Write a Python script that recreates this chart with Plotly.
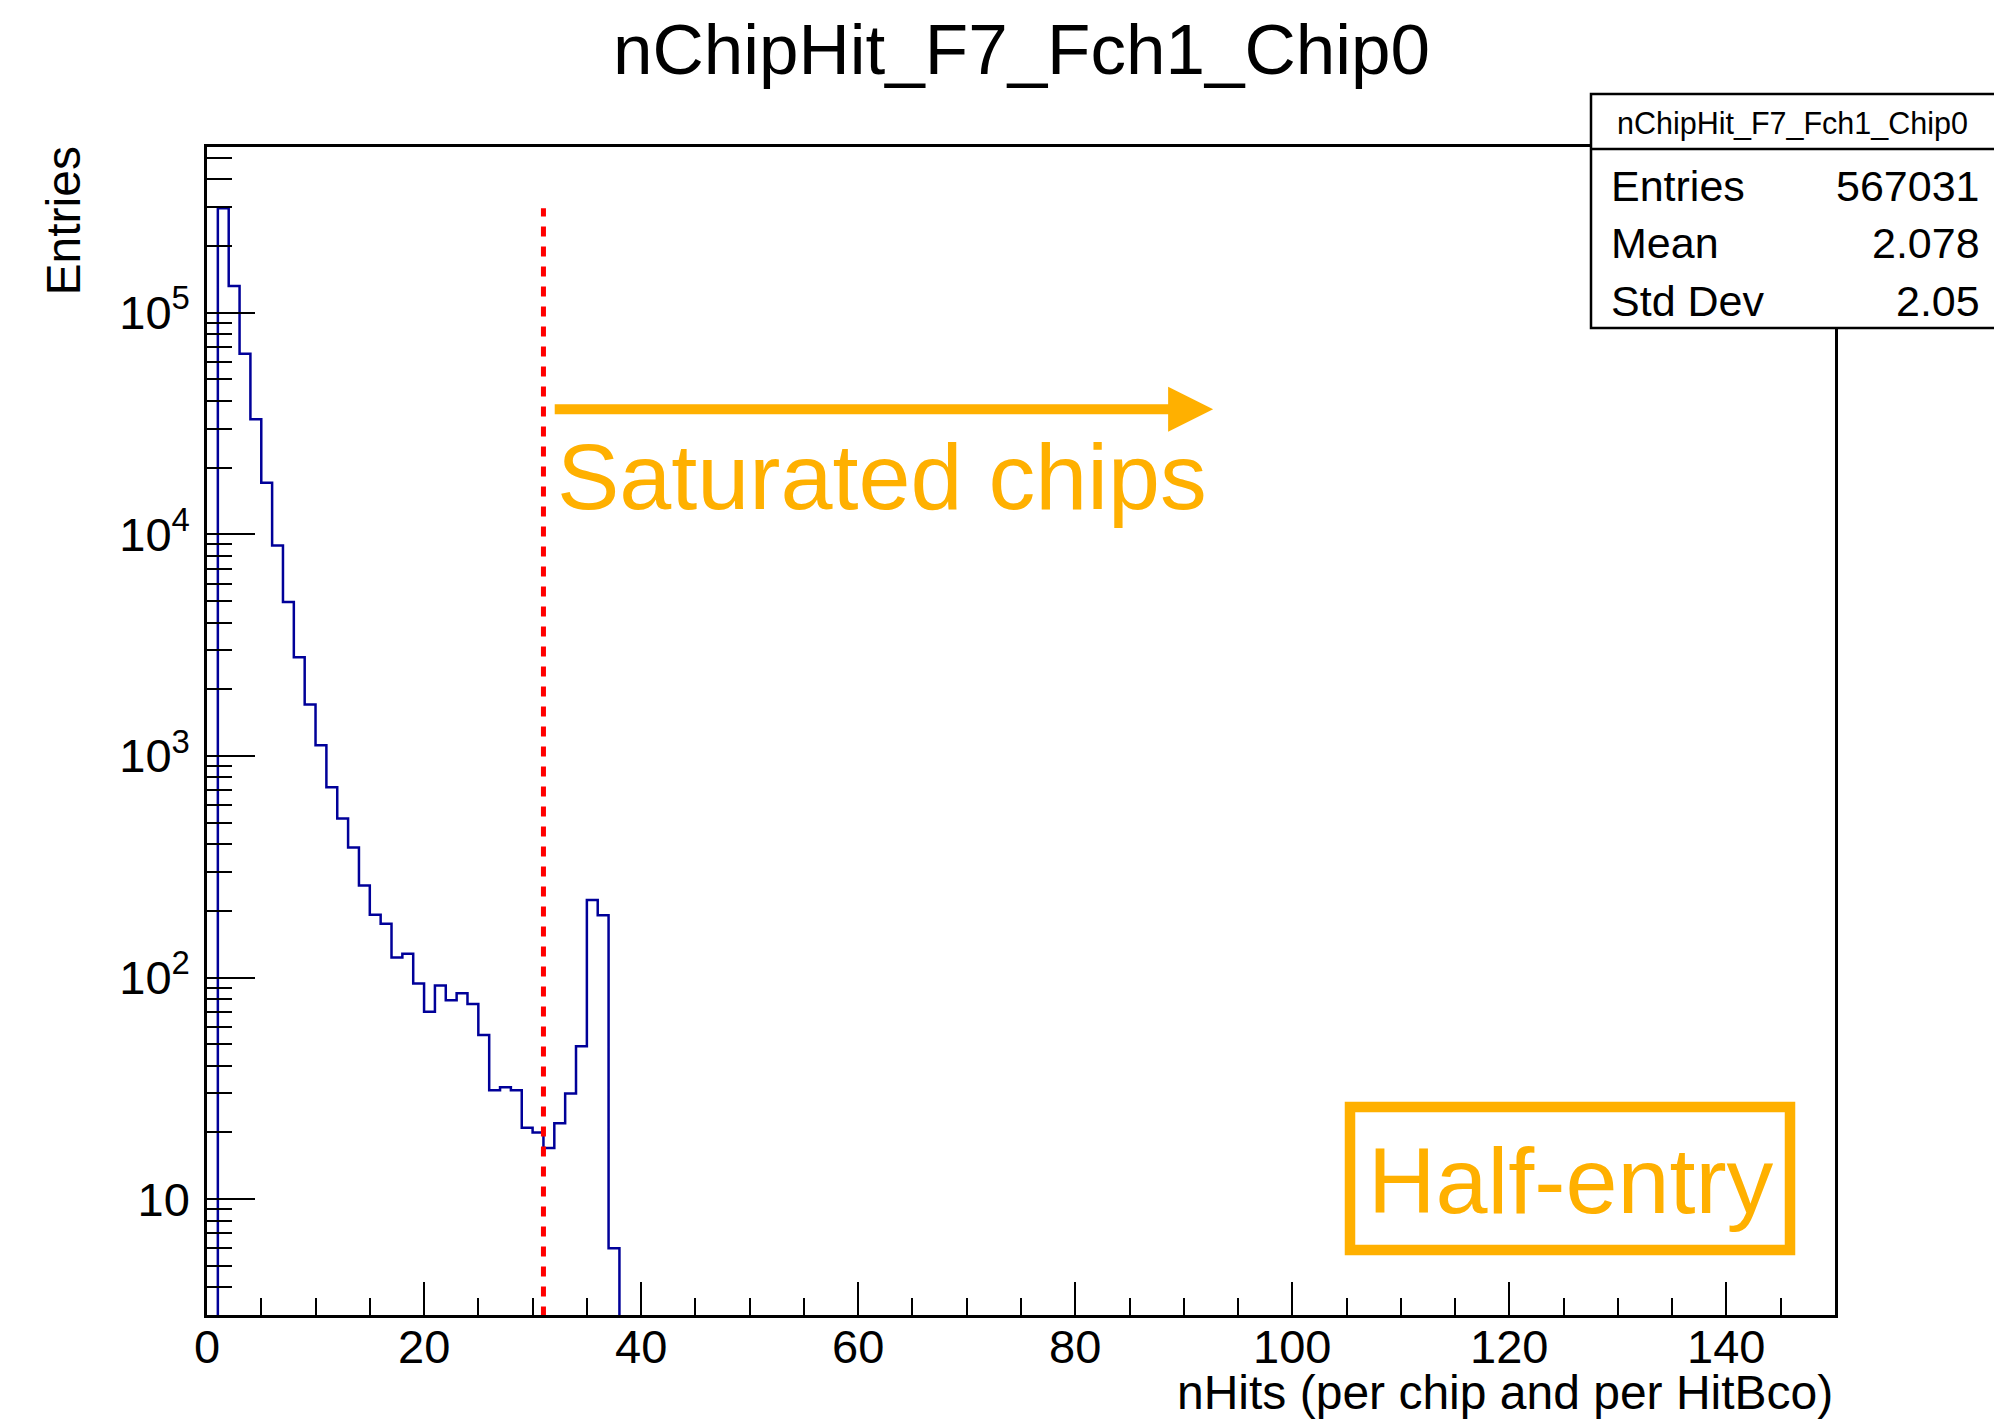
import math
import plotly.graph_objects as go

# ---- data: nHits per chip and per HitBco, unit-width bins ----
bin_edges_low = list(range(1, 38))          # lower edges of the non-empty bins
counts = [296000, 132000, 65300, 33100, 17100, 8900, 4950, 2790, 1706, 1116,
          723, 522, 386, 260, 192, 175, 123, 128, 94, 70,
          92, 79, 85, 76, 55, 31, 32, 31, 21, 20,
          17, 22, 30, 49, 224, 191, 6]
stats_labels = ["Entries", "Mean", "Std Dev"]
stats_values = ["567031", "2.078", "2.05"]
hist_name = "nChipHit_F7_Fch1_Chip0"
x_tick_vals = [0, 20, 40, 60, 80, 100, 120, 140]
x_tick_text = ["0", "20", "40", "60", "80", "100", "120", "140"]
y_tick_vals = [10, 100, 1000, 10000, 100000]
y_tick_text = ["10", "10<sup>2</sup>", "10<sup>3</sup>", "10<sup>4</sup>", "10<sup>5</sup>"]
saturation_cut = 31          # nHits above which a chip is saturated
arrow_from, arrow_to = 31.9, 92.7
arrow_level = 36700

# ---- canvas geometry (pixels) ----
W, H = 1994, 1421
L, R, T, B = 207, 159, 147, 106
PW, PH = W - L - R, H - T - B
Y_LOG_RANGE = [0.477, 5.748]
X_RANGE = [0, 150]

def px(x):
    return (x - L) / PW

def py(y):
    return (H - B - y) / PH

BLUE = "#000099"
ORANGE = "#FFB000"
FONT = "Liberation Sans, Arial, Helvetica, sans-serif"

fig = go.Figure()

# histogram outline (empty bins drop below the frame)
floor = 10 ** (Y_LOG_RANGE[0] - 1)
xs = [bin_edges_low[0]] + bin_edges_low + [bin_edges_low[-1] + 1, bin_edges_low[-1] + 1]
ys = [floor] + counts + [counts[-1], floor]
fig.add_trace(go.Scatter(x=xs, y=ys, mode="lines", line_shape="hv",
                         line=dict(color=BLUE, width=2.5), hoverinfo="skip"))

# saturation threshold
fig.add_trace(go.Scatter(x=[saturation_cut, saturation_cut], y=[floor, max(counts)],
                         mode="lines", line=dict(color="#FF0000", width=5, dash="10px,10px"),
                         hoverinfo="skip"))

axis_common = dict(showline=True, linewidth=2.5, linecolor="black", mirror=True,
                   showgrid=False, zeroline=False, ticks="inside", tickwidth=2,
                   tickcolor="black", tickfont=dict(family=FONT, size=47, color="black"))

# x tick labels are placed as annotations (closer to the axis than the native ones)
fig.update_xaxes(range=X_RANGE, tickmode="array", tickvals=x_tick_vals, ticklen=33,
                 showticklabels=False,
                 minor=dict(tick0=0, dtick=5, ticks="inside", ticklen=17, tickwidth=2,
                            tickcolor="black", showgrid=False),
                 **axis_common)

minor_y = [m * 10 ** k for k in range(0, 6) for m in range(2, 10)]
fig.update_yaxes(type="log", range=Y_LOG_RANGE, tickmode="array", tickvals=y_tick_vals,
                 ticktext=y_tick_text, ticklen=48, ticklabelstandoff=5,
                 minor=dict(tickmode="array", tickvals=minor_y, ticks="inside", ticklen=25,
                            tickwidth=2, tickcolor="black", showgrid=False),
                 **axis_common)

shapes = [
    # statistics box
    dict(type="rect", xref="paper", yref="paper", x0=px(1591), x1=px(2010), y0=py(328), y1=py(94),
         fillcolor="white", line=dict(color="black", width=2.5), layer="above"),
    dict(type="line", xref="paper", yref="paper", x0=px(1591), x1=px(2010), y0=py(149), y1=py(149),
         line=dict(color="black", width=2.5), layer="above"),
    # label frame
    dict(type="rect", xref="paper", yref="paper", x0=px(1350), x1=px(1790), y0=py(1250), y1=py(1107),
         fillcolor="rgba(0,0,0,0)", line=dict(color=ORANGE, width=10.5), layer="above"),
]

annotations = [
    dict(text=hist_name, xref="paper", yref="paper", x=px(1022), y=py(50), showarrow=False,
         xanchor="center", yanchor="middle", font=dict(family=FONT, size=71, color="black")),
    dict(text="nHits (per chip and per HitBco)", xref="paper", yref="paper", x=1.0, y=py(1392),
         showarrow=False, xanchor="right", yanchor="middle",
         font=dict(family=FONT, size=48, color="black")),
    dict(text="Entries", xref="paper", yref="paper", x=px(63), y=py(145), textangle=-90,
         showarrow=False, xanchor="center", yanchor="top",
         font=dict(family=FONT, size=48, color="black")),
    dict(text=hist_name, xref="paper", yref="paper", x=px(1792), y=py(124), showarrow=False,
         xanchor="center", yanchor="middle", font=dict(family=FONT, size=30.5, color="black")),
    dict(text="Saturated chips", xref="paper", yref="paper", x=px(882), y=py(477), showarrow=False,
         xanchor="center", yanchor="middle", font=dict(family=FONT, size=93.5, color=ORANGE)),
    dict(text="Half-entry", xref="paper", yref="paper", x=px(1571), y=py(1180), showarrow=False,
         xanchor="center", yanchor="middle", font=dict(family=FONT, size=93.5, color=ORANGE)),
    dict(text="", x=arrow_to, y=math.log10(arrow_level), xref="x", yref="y",
         ax=arrow_from, ay=math.log10(arrow_level), axref="x", ayref="y",
         showarrow=True, arrowhead=2, arrowsize=0.9, arrowwidth=10, arrowcolor=ORANGE,
         standoff=0, startstandoff=0),
]
for xv, xt in zip(x_tick_vals, x_tick_text):
    annotations.append(dict(text=xt, xref="x", yref="paper", x=xv, y=py(1346),
                            showarrow=False, xanchor="center", yanchor="middle",
                            font=dict(family=FONT, size=47, color="black")))
for row_y, lab, val in zip([186, 243, 301], stats_labels, stats_values):
    annotations.append(dict(text=lab, xref="paper", yref="paper", x=px(1609), y=py(row_y),
                            showarrow=False, xanchor="left", yanchor="middle",
                            font=dict(family=FONT, size=43, color="black")))
    annotations.append(dict(text=val, xref="paper", yref="paper", x=px(1982), y=py(row_y),
                            showarrow=False, xanchor="right", yanchor="middle",
                            font=dict(family=FONT, size=43, color="black")))

fig.update_layout(width=W, height=H, margin=dict(l=L, r=R, t=T, b=B),
                  paper_bgcolor="white", plot_bgcolor="white", showlegend=False,
                  font=dict(family=FONT, color="black"),
                  shapes=shapes, annotations=annotations)

fig.write_html("out.html")
